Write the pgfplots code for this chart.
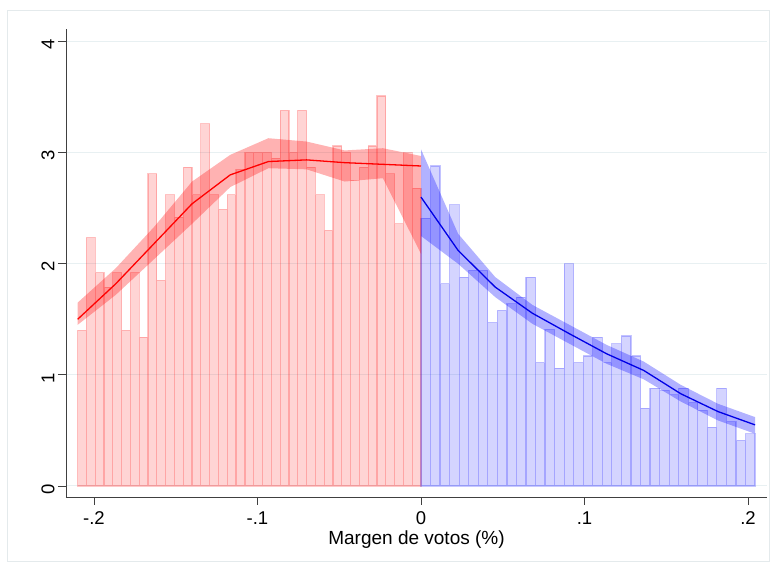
\documentclass[border=0pt]{standalone}
\usepackage{pgfplots}
\pgfplotsset{compat=1.18}
\usepackage{fontspec}
\setmainfont{Liberation Sans}
\definecolor{gridc}{RGB}{232,240,242}
\definecolor{framec}{RGB}{228,234,236}
\begin{document}
\begin{tikzpicture}
\useasboundingbox (-66pt,-72pt) rectangle (710pt,497pt);
\draw[framec, line width=0.8pt] (-59pt,-64pt) rectangle (703pt,487pt);
\begin{axis}[
  at={(0pt,0pt)}, anchor=south west,
  scale only axis, width=701pt, height=468pt,
  xmin=-0.2171, xmax=0.2116, ymin=-0.099, ymax=4.113,
  axis x line*=bottom, axis y line*=left,
  axis line style={black!75, line width=0.8pt},
  xtick={-0.2,-0.1,0,0.1,0.2},
  xticklabels={-.2,-.1,0,.1,.2},
  ytick={0,1,2,3,4},
  yticklabels={0,1,2,3,4},
  tick align=outside, major tick length=8pt,
  tick style={black!75, line width=0.8pt},
  ymajorgrids, grid style={gridc, line width=1pt},
  tick label style={font=\fontsize{18.5}{21}\selectfont},
  xticklabel style={yshift=-3pt},
  yticklabel style={rotate=90, anchor=south, xshift=-3pt},
  xlabel={Margen de votos (\%)},
  xlabel style={font=\fontsize{19}{22}\selectfont, yshift=1pt},
]
% red histogram
\addplot[ybar interval, fill=red, fill opacity=0.17, draw=red, draw opacity=0.22, line width=1.2pt] coordinates {
(-0.21,1.40) (-0.20462,2.235) (-0.19923,1.92) (-0.19385,1.79) (-0.18846,1.92)
(-0.18308,1.40) (-0.17769,1.92) (-0.17231,1.34) (-0.16692,2.81) (-0.16154,1.85)
(-0.15615,2.62) (-0.15077,2.42) (-0.14538,2.87) (-0.14,2.62) (-0.13462,3.26)
(-0.12923,2.62) (-0.12385,2.49) (-0.11846,2.62) (-0.11308,2.85) (-0.10769,3.0)
(-0.10231,3.0) (-0.09692,3.0) (-0.09154,2.95) (-0.08615,3.38) (-0.08077,3.0)
(-0.07538,3.38) (-0.07,2.87) (-0.06462,2.62) (-0.05923,2.30) (-0.05385,3.06)
(-0.04846,3.0) (-0.04308,2.75) (-0.03769,2.87) (-0.03231,3.06) (-0.02692,3.51)
(-0.02154,2.81) (-0.01615,2.36) (-0.01077,3.0) (-0.00538,2.68) (0,2.68)
};
% blue histogram
\addplot[ybar interval, fill=blue, fill opacity=0.17, draw=blue, draw opacity=0.22, line width=1.2pt] coordinates {
(0,2.41) (0.005837,2.88) (0.011674,1.82) (0.017511,2.53) (0.023349,1.88)
(0.029186,1.94) (0.035023,1.94) (0.04086,1.47) (0.046697,1.58) (0.052534,1.64)
(0.058371,1.70) (0.064209,1.88) (0.070046,1.11) (0.075883,1.41) (0.08172,1.06)
(0.087557,2.00) (0.093394,1.11) (0.099231,1.17) (0.105069,1.34) (0.110906,1.11)
(0.116743,1.28) (0.12258,1.35) (0.128417,1.17) (0.134254,0.70) (0.140091,0.88)
(0.145929,0.86) (0.151766,0.82) (0.157603,0.88) (0.16344,0.75) (0.169277,0.68)
(0.175114,0.53) (0.180951,0.88) (0.186789,0.58) (0.192626,0.41) (0.198463,0.47)
(0.2043,0.47)
};
% red CI band
\addplot[draw=none, fill=red, fill opacity=0.3] coordinates {
(-0.21,1.65) (-0.18667,1.96) (-0.16333,2.33) (-0.14,2.74) (-0.11667,2.98)
(-0.09333,3.13) (-0.07,3.10) (-0.04667,3.02) (-0.02333,3.04) (0,2.97)
(0,2.09) (-0.02333,2.77) (-0.04667,2.74) (-0.07,2.85) (-0.09333,2.86)
(-0.11667,2.69) (-0.14,2.36) (-0.16333,2.04) (-0.18667,1.72) (-0.21,1.45)
} -- cycle;
% blue CI band
\addplot[draw=none, fill=blue, fill opacity=0.3] coordinates {
(0,3.03) (0.0227,2.27) (0.0454,1.88) (0.0681,1.63) (0.0908,1.45)
(0.1135,1.27) (0.1362,1.12) (0.1589,0.91) (0.1816,0.74) (0.2043,0.62)
(0.2043,0.47) (0.1816,0.59) (0.1589,0.76) (0.1362,0.96) (0.1135,1.10)
(0.0908,1.28) (0.0681,1.46) (0.0454,1.70) (0.0227,2.00) (0,2.25)
} -- cycle;
% red fit
\addplot[red, line width=1.3pt] coordinates {
(-0.21,1.50) (-0.18667,1.82) (-0.16333,2.18) (-0.14,2.54) (-0.11667,2.80)
(-0.09333,2.92) (-0.07,2.935) (-0.04667,2.91) (-0.02333,2.895) (0,2.88)
};
% blue fit
\addplot[blue!90!black, line width=1.3pt] coordinates {
(0,2.60) (0.0227,2.12) (0.0454,1.79) (0.0681,1.555) (0.0908,1.37)
(0.1135,1.19) (0.1362,1.04) (0.1589,0.83) (0.1816,0.67) (0.2043,0.55)
};
\end{axis}
\end{tikzpicture}
\end{document}
